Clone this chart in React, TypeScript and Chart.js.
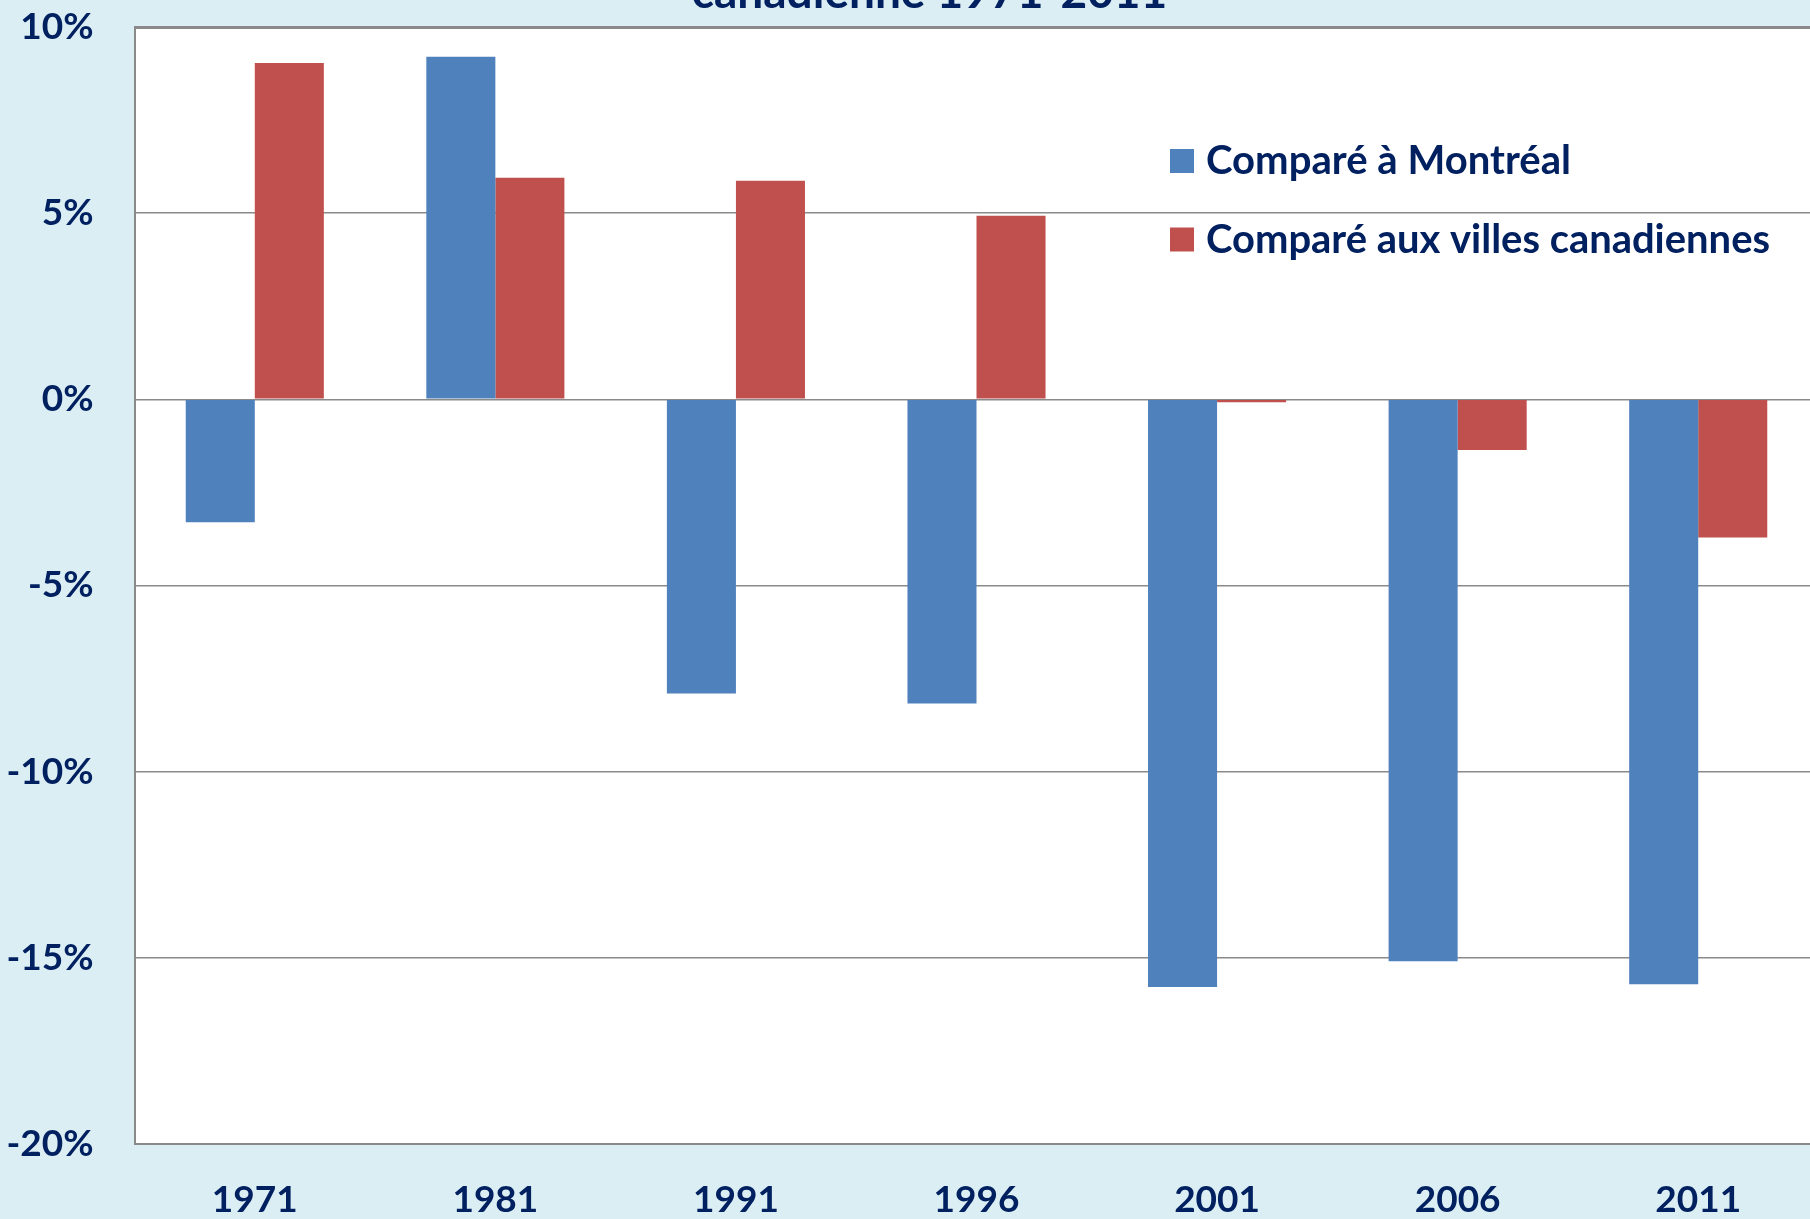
import React, { useEffect, useRef } from "react";
import { Chart, registerables } from "chart.js";

Chart.register(...registerables);

const categories = ["1971", "1981", "1991", "1996", "2001", "2006", "2011"];
const montrealValues = [-3.3, 9.2, -7.9, -8.17, -15.78, -15.09, -15.71];
const canadianValues = [9.03, 5.95, 5.87, 4.93, -0.08, -1.36, -3.71];
const seriesLabels = ["Comparé à Montréal", "Comparé aux villes canadiennes"];
const yMin = -20;
const yMax = 10;
const yStep = 5;
const titleText = "canadienne 1971-2011";

const NAVY = "#002060";
const BG = "#DBEEF4";
const GRID = "#8a8a8a";
const FONT = "Lato, 'Open Sans', sans-serif";

export default function App() {
  const ref = useRef<HTMLCanvasElement | null>(null);

  useEffect(() => {
    const canvas = ref.current;
    if (!canvas) return;

    const bgPlugin = {
      id: "bgPlugin",
      beforeDraw(chart: any) {
        const { ctx, chartArea } = chart;
        ctx.save();
        ctx.fillStyle = BG;
        ctx.fillRect(0, 0, chart.width, chart.height);
        ctx.fillStyle = "#ffffff";
        ctx.fillRect(chartArea.left, chartArea.top, chartArea.right - chartArea.left, chartArea.bottom - chartArea.top);
        ctx.restore();
      },
    };

    const titlePlugin = {
      id: "titlePlugin",
      afterDraw(chart: any) {
        const { ctx } = chart;
        ctx.save();
        ctx.fillStyle = NAVY;
        ctx.font = `bold 46px ${FONT}`;
        ctx.textAlign = "center";
        ctx.textBaseline = "alphabetic";
        ctx.fillText(titleText, 929.5, 8, 479);
        ctx.restore();
      },
    };

    const legendPlugin = {
      id: "legendPlugin",
      afterDraw(chart: any) {
        const { ctx } = chart;
        const rows = [
          { y: 161, w: 365 },
          { y: 239.5, w: 564 },
        ];
        ctx.save();
        chart.data.datasets.forEach((ds: any, i: number) => {
          const r = rows[i];
          ctx.fillStyle = ds.backgroundColor;
          ctx.fillRect(1170, r.y - 12, 24, 24);
          ctx.fillStyle = NAVY;
          ctx.font = `bold 40.5px ${FONT}`;
          ctx.textAlign = "left";
          ctx.textBaseline = "middle";
          ctx.fillText(ds.label, 1206, r.y, r.w);
        });
        ctx.restore();
      },
    };

    const chart = new Chart(canvas, {
      type: "bar",
      data: {
        labels: categories,
        datasets: [
          {
            label: seriesLabels[0],
            data: montrealValues,
            backgroundColor: "#4F81BD",
            categoryPercentage: 0.574,
            barPercentage: 1.0,
          },
          {
            label: seriesLabels[1],
            data: canadianValues,
            backgroundColor: "#C0504D",
            categoryPercentage: 0.574,
            barPercentage: 1.0,
          },
        ],
      },
      options: {
        responsive: false,
        animation: false,
        layout: { padding: { top: 27, right: 11.5, left: 0, bottom: 0 } },
        plugins: {
          legend: { display: false },
          title: { display: false },
          tooltip: { enabled: false },
        },
        scales: {
          x: {
            grid: { display: false, drawTicks: false },
            border: { display: true, color: GRID, width: 2 },
            ticks: {
              color: NAVY,
              font: { family: FONT, size: 37, weight: "bold" },
              padding: 34,
              maxRotation: 0,
            },
            afterFit(scale: any) {
              scale.height = 75;
              scale.paddingLeft = 0;
              scale.paddingRight = 0;
            },
          },
          y: {
            min: yMin,
            max: yMax,
            grid: {
              color: GRID,
              lineWidth: (c: any) => (c.tick && c.tick.value === yMax ? 3 : 1.5),
              drawTicks: false,
            },
            border: { display: true, color: GRID, width: 2 },
            ticks: {
              stepSize: yStep,
              color: NAVY,
              font: { family: FONT, size: 37, weight: "bold" },
              padding: 41,
              callback: (v: any) => `${v}%`,
            },
            afterFit(scale: any) {
              scale.width = 134.5;
              scale.paddingTop = 0;
              scale.paddingBottom = 0;
            },
          },
        },
      },
      plugins: [bgPlugin, titlePlugin, legendPlugin],
    });

    return () => chart.destroy();
  }, []);

  return (
    <div
      style={{
        position: "fixed",
        left: 0,
        top: 0,
        width: 1810,
        height: 1219,
        overflow: "hidden",
        background: BG,
      }}
    >
      <canvas ref={ref} width={1830} height={1219} style={{ display: "block", width: 1830, height: 1219 }} />
    </div>
  );
}
